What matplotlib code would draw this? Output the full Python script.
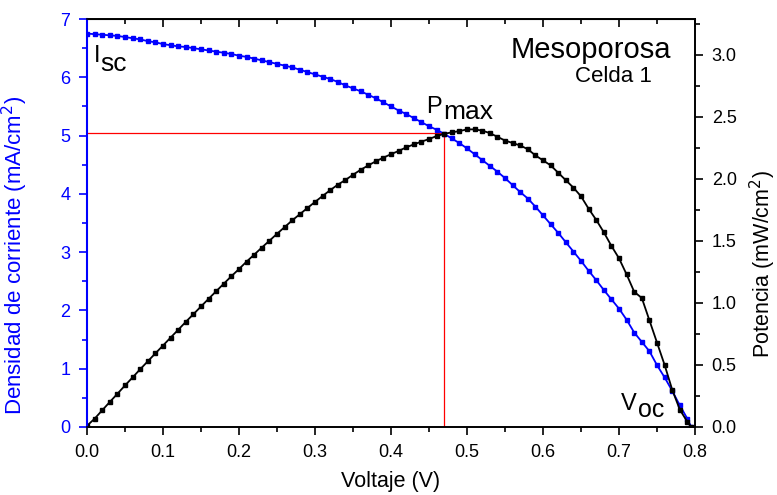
import matplotlib.pyplot as plt
from matplotlib.ticker import MultipleLocator

plt.rcParams['font.family'] = ['Liberation Sans', 'DejaVu Sans']

# Voltage sweep (V)
voltage = [0.00, 0.01, 0.02, 0.03, 0.04, 0.05, 0.06, 0.07, 0.08, 0.09,
           0.10, 0.11, 0.12, 0.13, 0.14, 0.15, 0.16, 0.17, 0.18, 0.19,
           0.20, 0.21, 0.22, 0.23, 0.24, 0.25, 0.26, 0.27, 0.28, 0.29,
           0.30, 0.31, 0.32, 0.33, 0.34, 0.35, 0.36, 0.37, 0.38, 0.39,
           0.40, 0.41, 0.42, 0.43, 0.44, 0.45, 0.46, 0.47, 0.48, 0.49,
           0.50, 0.51, 0.52, 0.53, 0.54, 0.55, 0.56, 0.57, 0.58, 0.59,
           0.60, 0.61, 0.62, 0.63, 0.64, 0.65, 0.66, 0.67, 0.68, 0.69,
           0.70, 0.71, 0.72, 0.73, 0.74, 0.75, 0.76, 0.77, 0.78, 0.79,
           0.795]

# Current density (mA/cm2)
current = [6.75, 6.74, 6.73, 6.72, 6.71, 6.69, 6.67, 6.65, 6.62, 6.60,
           6.57, 6.55, 6.53, 6.52, 6.50, 6.48, 6.46, 6.44, 6.42, 6.40,
           6.37, 6.35, 6.32, 6.29, 6.26, 6.23, 6.20, 6.17, 6.13, 6.09,
           6.05, 6.01, 5.97, 5.92, 5.86, 5.81, 5.76, 5.70, 5.64, 5.57,
           5.50, 5.43, 5.37, 5.30, 5.23, 5.16, 5.10, 5.03, 4.95, 4.87,
           4.78, 4.68, 4.58, 4.48, 4.38, 4.27, 4.15, 4.03, 3.92, 3.78,
           3.63, 3.48, 3.33, 3.17, 3.01, 2.85, 2.68, 2.52, 2.35, 2.19,
           2.03, 1.84, 1.62, 1.46, 1.30, 1.06, 0.85, 0.62, 0.37, 0.14,
           0.00]

# Power density (mW/cm2)
power = [0.01, 0.067, 0.135, 0.202, 0.268, 0.335, 0.400, 0.466, 0.530, 0.594,
         0.657, 0.721, 0.784, 0.848, 0.910, 0.972, 1.034, 1.095, 1.156, 1.216,
         1.274, 1.334, 1.390, 1.447, 1.502, 1.558, 1.612, 1.666, 1.716, 1.766,
         1.815, 1.863, 1.910, 1.954, 1.992, 2.034, 2.074, 2.109, 2.143, 2.172,
         2.200, 2.226, 2.255, 2.279, 2.301, 2.322, 2.346, 2.364, 2.376, 2.386,
         2.400, 2.400, 2.390, 2.370, 2.340, 2.310, 2.290, 2.270, 2.240, 2.190,
         2.150, 2.110, 2.050, 1.990, 1.930, 1.860, 1.760, 1.670, 1.570, 1.460,
         1.360, 1.230, 1.090, 1.040, 0.860, 0.680, 0.500, 0.300, 0.140, 0.040,
         0.00]

# Maximum power point
v_max = 0.47
j_max = 5.05

fig = plt.figure(figsize=(7.77, 4.95), dpi=100)
ax = fig.add_axes([0.112, 0.1374, 0.7825, 0.8242])
ax2 = ax.twinx()

# J-V curve and max power guide lines
ax.plot(voltage, current, color='blue', marker='s', markersize=2.6, linewidth=1.3, zorder=3)
ax.plot([0, v_max], [j_max, j_max], color='red', linewidth=0.9, zorder=2)
ax.plot([v_max, v_max], [0, j_max], color='red', linewidth=0.9, zorder=2)

# Power curve
ax2.plot(voltage, power, color='black', marker='s', markersize=2.6, linewidth=1.3)

ax.set_xlim(0, 0.8)
ax.set_ylim(0, 7)
ax2.set_ylim(0, 3.29)

ax.xaxis.set_major_locator(MultipleLocator(0.1))
ax.xaxis.set_minor_locator(MultipleLocator(0.05))
ax.yaxis.set_major_locator(MultipleLocator(1))
ax.yaxis.set_minor_locator(MultipleLocator(0.5))
ax2.yaxis.set_major_locator(MultipleLocator(0.5))
ax2.yaxis.set_minor_locator(MultipleLocator(0.25))

ax.tick_params(axis='x', which='both', direction='out', top=False, labelsize=13, width=1.2, pad=6)
ax.tick_params(axis='x', which='major', length=6)
ax.tick_params(axis='x', which='minor', length=3.5)
ax.tick_params(axis='y', which='both', direction='out', colors='blue', labelsize=13, width=1.2, pad=6)
ax.tick_params(axis='y', which='major', length=6)
ax.tick_params(axis='y', which='minor', length=3.5)
ax2.tick_params(axis='y', which='both', direction='out', labelsize=13, width=1.2, pad=6)
ax2.tick_params(axis='y', which='major', length=6)
ax2.tick_params(axis='y', which='minor', length=3.5)
ax.xaxis.set_major_formatter(plt.FormatStrFormatter('%.1f'))
ax2.yaxis.set_major_formatter(plt.FormatStrFormatter('%.1f'))

# Top axis ticks pointing inward
top = ax.secondary_xaxis('top')
top.xaxis.set_major_locator(MultipleLocator(0.1))
top.xaxis.set_minor_locator(MultipleLocator(0.05))
top.tick_params(which='both', direction='in', labeltop=False, width=1.2)
top.tick_params(which='major', length=6)
top.tick_params(which='minor', length=3.5)

for a in (ax, ax2):
    for s in a.spines.values():
        s.set_linewidth(1.2)
ax.spines['left'].set_color('blue')
ax2.spines['left'].set_color('blue')
ax2.spines['left'].set_linewidth(1.5)

ax.set_xlabel('Voltaje (V)', fontsize=15.5)
ax.xaxis.set_label_coords(0.5, -0.108)
ax.set_ylabel('Densidad de corriente (mA/cm$^2$)', fontsize=16, color='blue')
ax.yaxis.set_label_coords(-0.093, 0.42)
ax2.set_ylabel('Potencia (mW/cm$^2$)', fontsize=15.5)
ax2.yaxis.set_label_coords(1.086, 0.4)

# Annotations: main letter and enlarged subscript
ax.text(0.0092, 6.26, 'I', fontsize=17, va='baseline')
ax.text(0.0171, 6.11, 'sc', fontsize=19, va='baseline')
ax.text(0.446, 5.39, 'P', fontsize=17, va='baseline')
ax.text(0.468, 5.28, 'max', fontsize=19, va='baseline')
ax.text(0.703, 0.29, 'V', fontsize=17, va='baseline')
ax.text(0.725, 0.17, 'oc', fontsize=18, va='baseline')
ax.text(0.663, 6.33, 'Mesoporosa', fontsize=21, ha='center', va='baseline')
ax.text(0.693, 5.92, 'Celda 1', fontsize=16, ha='center', va='baseline')

plt.savefig('out.png', dpi=100)
